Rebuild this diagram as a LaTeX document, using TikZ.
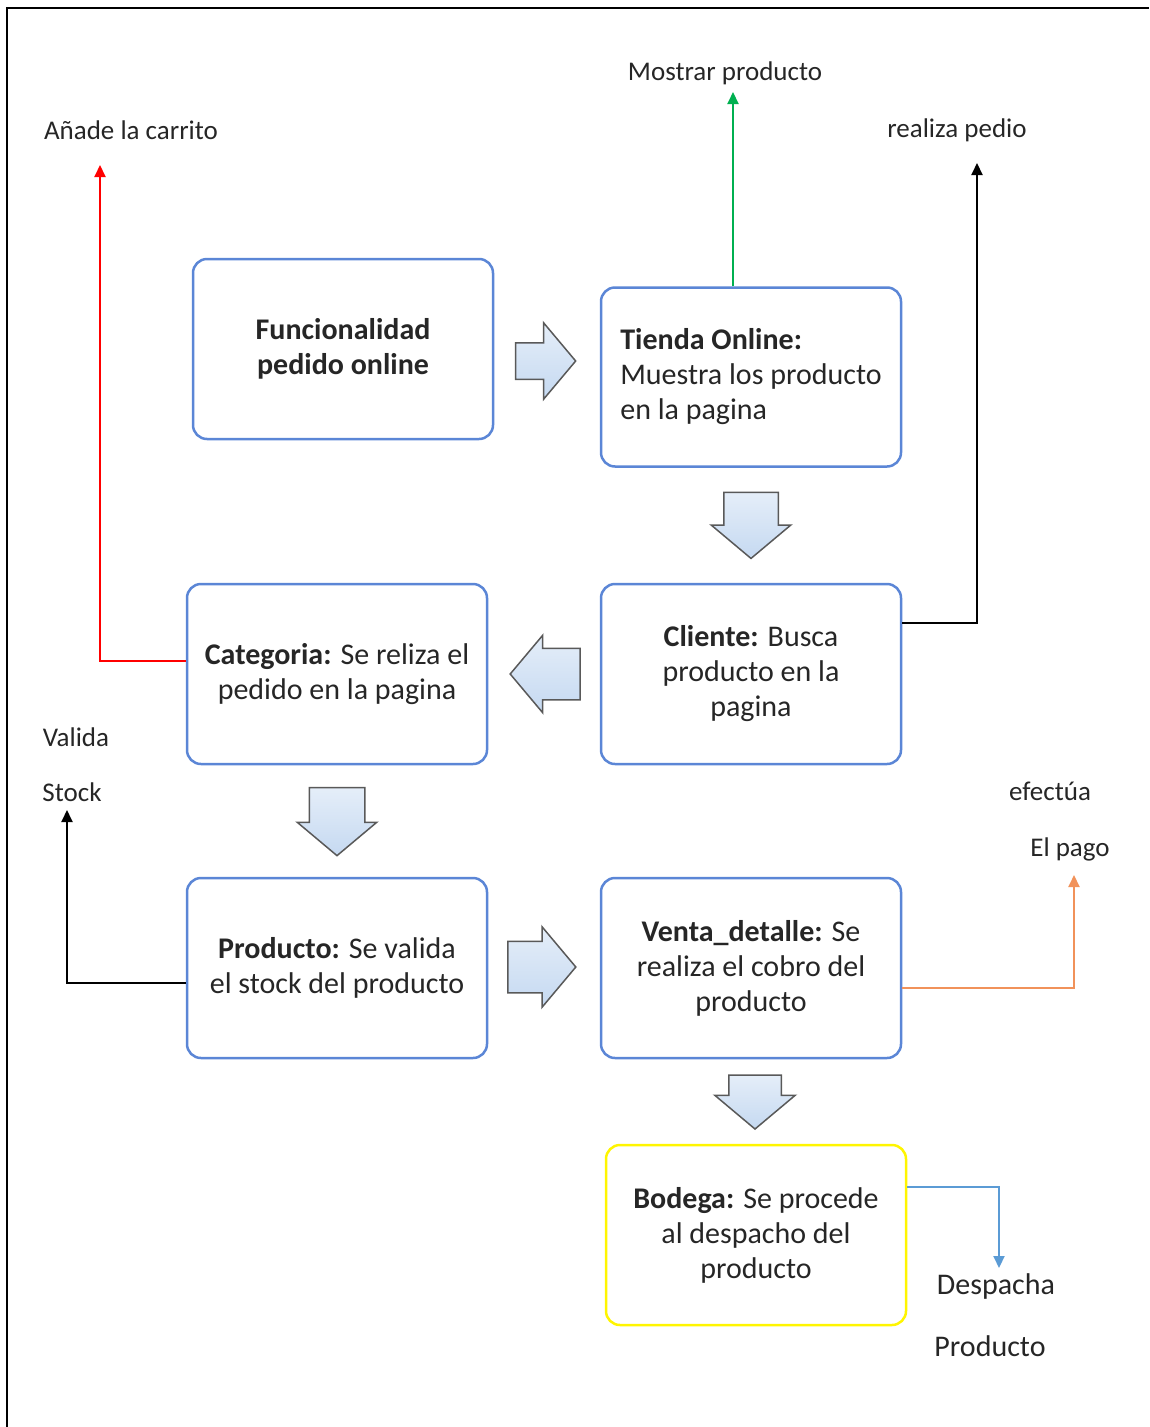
\documentclass[tikz,border=0pt]{standalone}
\usepackage{fontspec}
\setmainfont{Carlito}
\usetikzlibrary{shapes.arrows, arrows.meta}
\definecolor{bordeazul}{RGB}{91,134,214}
\definecolor{flechazul}{RGB}{197,217,241}
\definecolor{verde}{RGB}{0,176,80}
\definecolor{naranja}{RGB}{241,146,90}
\definecolor{azul}{RGB}{91,155,213}
\definecolor{amarillo}{RGB}{255,245,0}
\begin{document}
\begin{tikzpicture}[x=1pt, y=-1pt]
        \tikzstyle{caja} = [draw=bordeazul, line width=2.5pt, rounded corners=14pt, minimum width=300pt, minimum height=180pt, align=center, inner sep=0pt, text=black!85, font=\fontsize{30pt}{35pt}\selectfont]
        \tikzstyle{etq} = [inner sep=0pt, text=black!85, font=\fontsize{27pt}{32pt}\selectfont]
        \tikzstyle{flecha} = [single arrow, draw=black!65, line width=1.5pt, top color=flechazul!45!white, bottom color=flechazul, inner xsep=0pt, single arrow tip angle=100]
        \tikzstyle{flechabaja} = [flecha, inner ysep=0pt, shape border rotate=270]
        \tikzstyle{linea} = [line width=2pt, -{Triangle[length=12pt, width=11pt]}]
        \useasboundingbox (0,0) rectangle (1149,1427);
        \draw[line width=2.5pt] (7,1427) |- (1149,8);
        % cajas
        \node[caja] (fun) at (343, 349) {\textbf{Funcionalidad}\\\textbf{pedido online}};
        \node[caja, align=left, minimum height=179pt] (tienda) at (751, 377) {\textbf{Tienda Online:}\\Muestra los producto\\en la pagina};
        \node[caja] (cliente) at (751, 674) {\textbf{Cliente:} Busca\\producto en la\\pagina};
        \node[caja] (cat) at (337, 674) {\textbf{Categoria:} Se reliza el\\pedido en la pagina};
        \node[caja] (prod) at (337, 968) {\textbf{Producto:} Se valida\\el stock del producto};
        \node[caja] (venta) at (751, 968) {\textbf{Venta\_detalle:} Se\\realiza el cobro del\\producto};
        \node[caja, draw=amarillo] (bod) at (756, 1235) {\textbf{Bodega:} Se procede\\al despacho del\\producto};
        % flechas de bloque
        \node[flecha, minimum height=60pt, inner ysep=17.5pt, single arrow head extend=20pt] (f1) at (538, 361) {};
        \node[flechabaja, minimum height=66pt, inner xsep=26.5pt, single arrow head extend=12.5pt] (f2) at (751, 514) {};
        \node[flecha, minimum height=70pt, inner ysep=25pt, single arrow head extend=13pt, shape border rotate=180] (f3) at (556, 674) {};
        \node[flechabaja, minimum height=68pt, inner xsep=27pt, single arrow head extend=12pt] (f4) at (337, 810) {};
        \node[flecha, minimum height=68pt, inner ysep=25pt, single arrow head extend=14.5pt] (f5) at (531, 967) {};
        \node[flechabaja, minimum height=54pt, inner xsep=25.5pt, single arrow head extend=14pt] (f6) at (755, 1091) {};
        % etiquetas
        \node[etq] (mostrar) at (725, 73) {Mostrar producto};
        \node[etq] (anade) at (131, 130) {Añade la carrito};
        \node[etq] (realiza) at (957, 130) {realiza pedio};
        \node[etq] (valida) at (76, 737) {Valida};
        \node[etq] (stock) at (72, 792) {Stock};
        \node[etq] (efectua) at (1050, 791) {efectúa};
        \node[etq] (pago) at (1070, 849) {El pago};
        \node[etq, font=\fontsize{30pt}{35pt}\selectfont] (despacha) at (996, 1286) {Despacha};
        \node[etq, font=\fontsize{30pt}{35pt}\selectfont] (producto) at (990, 1346) {Producto};
        % conectores
        \coordinate (pm) at (733, 92);
        \coordinate (pa) at (100, 165);
        \coordinate (pr) at (977, 163);
        \coordinate (ps) at (67, 810);
        \coordinate (pe) at (1074, 875);
        \coordinate (pd) at (999, 1268);
        \draw[linea, verde] (tienda.north -| pm) -- (pm);
        \draw[linea, red] ([yshift=13pt]cat.west) -| (pa);
        \draw[linea, black] ([yshift=51pt]cliente.east) -| (pr);
        \draw[linea, black] ([yshift=-15pt]prod.west) -| (ps);
        \draw[linea, naranja] ([yshift=-20pt]venta.east) -| (pe);
        \draw[linea, azul] ([yshift=48pt]bod.east) -| (pd);
\end{tikzpicture}
\end{document}
